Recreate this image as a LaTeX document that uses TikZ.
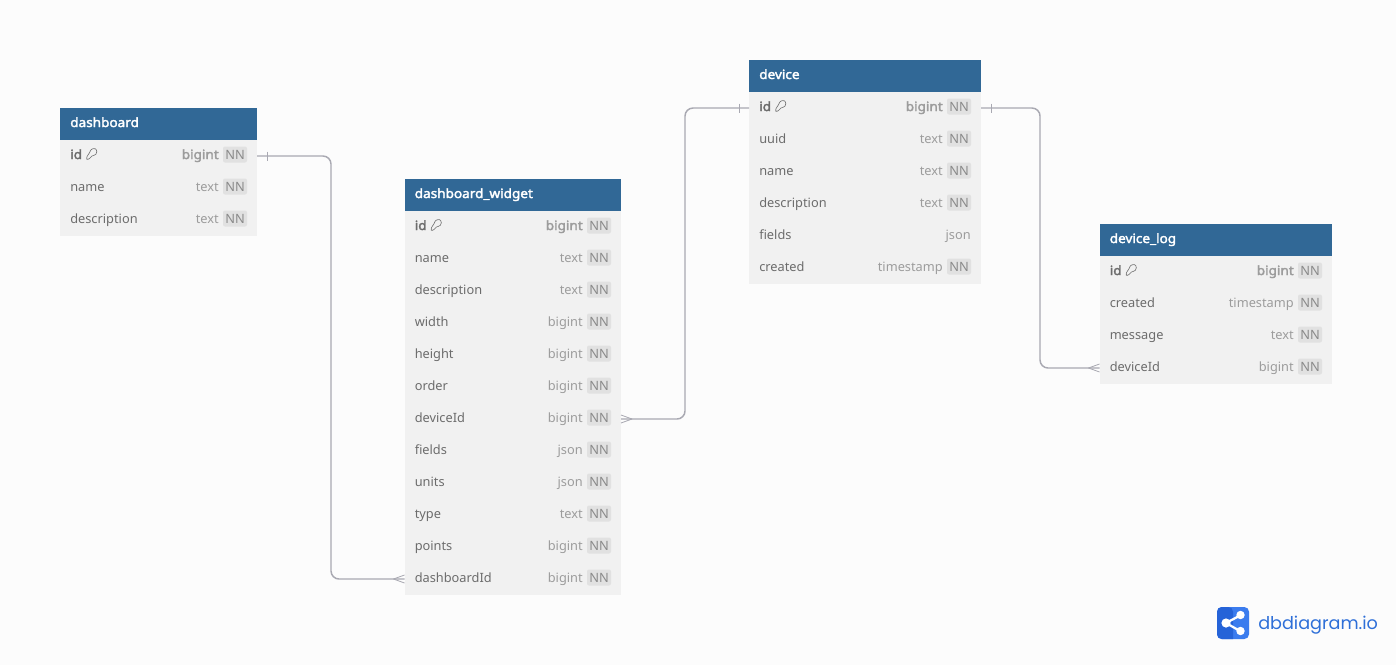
\documentclass[tikz,border=0pt]{standalone}
\usepackage{fontspec}
\setmainfont{Noto Sans}
\newfontfamily\heavy[FakeBold=2.4,FakeStretch=1.06]{Noto Sans}
\newfontfamily\logofont{Poppins}
\definecolor{pagebg}{HTML}{FCFCFC}
\definecolor{headbg}{HTML}{316896}
\definecolor{rowbg}{HTML}{F1F1F1}
\definecolor{namecol}{HTML}{6C6C6C}
\definecolor{typecol}{HTML}{9C9C9C}
\definecolor{badgebg}{HTML}{E1E1E1}
\definecolor{badgetx}{HTML}{8A8A8A}
\definecolor{linecol}{HTML}{A9A9B2}
\definecolor{logodark}{HTML}{2563D8}
\definecolor{logolight}{HTML}{3B7CEE}
\definecolor{logotext}{HTML}{2E6FD8}
\tikzset{
  headbox/.style={fill=headbg,draw=none,inner sep=0pt,outer sep=0pt,minimum height=24pt,anchor=north west},
  rowbox/.style={fill=rowbg,draw=none,inner sep=0pt,outer sep=0pt,minimum height=24pt,anchor=north west},
  headtext/.style={inner sep=0pt,anchor=base west,text=white,font=\heavy\fontsize{9.6pt}{11pt}\selectfont},
  nametext/.style={inner sep=0pt,anchor=base west,text=namecol,font=\fontsize{9.6pt}{11pt}\selectfont},
  typetext/.style={inner sep=0pt,anchor=base east,text=typecol,font=\fontsize{9.6pt}{11pt}\selectfont},
  badge/.style={fill=badgebg,draw=none,rounded corners=1.5pt,inner sep=0pt,minimum width=18pt,minimum height=12pt,anchor=center,text=badgetx,font=\fontsize{9.6pt}{11pt}\selectfont},
  rel/.style={draw=linecol,line width=1.1pt,rounded corners=6pt},
  mark stroke/.style={draw=linecol,line width=0.6pt},
  key stroke/.style={draw=namecol,line width=0.45pt},
}
% #1 prefix, #2 x0, #3 x1, #4 top, #5 title
\newcommand\tblhead[5]{%
  \node[headbox,minimum width={(#3-#2)*0.75pt}] (#1-head) at (#2,#4) {};
  \node[headtext] (#1-title) at (#2+10,#4+19) {#5};
}
% #1 prefix, #2 x0, #3 x1, #4 row top, #5 label, #6 type
\newcommand\bodyrow[6]{%
  \node[rowbox,minimum width={(#3-#2)*0.75pt}] (#1-#5) at (#2,#4) {};
  \node[nametext] (#1-#5-l) at (#2+10,#4+19.5) {#5};
  \node[typetext] (#1-#5-t) at (#3-38,#4+19.5) {#6};
  \node[badge] (#1-#5-n) at (#3-22,#4+14.5) {NN};
}
% row without the NN badge
\newcommand\freerow[6]{%
  \node[rowbox,minimum width={(#3-#2)*0.75pt}] (#1-#5) at (#2,#4) {};
  \node[nametext] (#1-#5-l) at (#2+10,#4+19.5) {#5};
  \node[typetext] (#1-#5-t) at (#3-10,#4+19.5) {#6};
}
% primary key row
\newcommand\keyrow[4]{%
  \node[rowbox,minimum width={(#3-#2)*0.75pt}] (#1-id) at (#2,#4) {};
  \node[nametext,font=\heavy\fontsize{9.6pt}{11pt}\selectfont] (#1-id-l) at (#2+10,#4+19) {id};
  \node[typetext,font=\heavy\fontsize{9.6pt}{11pt}\selectfont] (#1-id-t) at (#3-38,#4+19) {bigint};
  \node[badge] (#1-id-n) at (#3-22,#4+14.5) {NN};
  \begin{scope}[shift={(#2+26,#4+8)}]
    \draw[key stroke,rounded corners=0.8pt] (4.2,3.6) .. controls (5,0.6) and (9.5,-0.2) .. (10.6,2.6) .. controls (11.2,5.4) and (9,7.6) .. (6.8,7.2) -- (2.6,11.4) -- (0.6,11.4) -- (0.6,9.2) -- cycle;
  \end{scope}
}
\begin{document}
\begin{tikzpicture}[x=0.75pt,y=-0.75pt]
\useasboundingbox (0,0) rectangle (1396,665);
\fill[pagebg] (0,0) rectangle (1396,665);

% dashboard
\tblhead{dash}{60}{257}{108}{dashboard}
\keyrow{dash}{60}{257}{140}
\bodyrow{dash}{60}{257}{172}{name}{text}
\bodyrow{dash}{60}{257}{204}{description}{text}

% dashboard_widget
\tblhead{wid}{404.5}{621}{179}{dashboard\_widget}
\keyrow{wid}{404.5}{621}{211}
\bodyrow{wid}{404.5}{621}{243}{name}{text}
\bodyrow{wid}{404.5}{621}{275}{description}{text}
\bodyrow{wid}{404.5}{621}{307}{width}{bigint}
\bodyrow{wid}{404.5}{621}{339}{height}{bigint}
\bodyrow{wid}{404.5}{621}{371}{order}{bigint}
\bodyrow{wid}{404.5}{621}{403}{deviceId}{bigint}
\bodyrow{wid}{404.5}{621}{435}{fields}{json}
\bodyrow{wid}{404.5}{621}{467}{units}{json}
\bodyrow{wid}{404.5}{621}{499}{type}{text}
\bodyrow{wid}{404.5}{621}{531}{points}{bigint}
\bodyrow{wid}{404.5}{621}{563}{dashboardId}{bigint}

% device
\tblhead{dev}{749}{981}{60}{device}
\keyrow{dev}{749}{981}{92}
\bodyrow{dev}{749}{981}{124}{uuid}{text}
\bodyrow{dev}{749}{981}{156}{name}{text}
\bodyrow{dev}{749}{981}{188}{description}{text}
\freerow{dev}{749}{981}{220}{fields}{json}
\bodyrow{dev}{749}{981}{252}{created}{timestamp}

% device_log
\tblhead{log}{1099.5}{1332}{224}{device\_log}
\keyrow{log}{1099.5}{1332}{256}
\bodyrow{log}{1099.5}{1332}{288}{created}{timestamp}
\bodyrow{log}{1099.5}{1332}{320}{message}{text}
\bodyrow{log}{1099.5}{1332}{352}{deviceId}{bigint}

% connectors
\coordinate (busa) at (331,0);
\coordinate (busb) at (685,0);
\coordinate (busc) at (1040,0);
\draw[rel] (dash-id.east) -- (dash-id.east -| busa) -- (wid-dashboardId.west -| busa) -- (wid-dashboardId.west);
\draw[rel] (wid-deviceId.east) -- (wid-deviceId.east -| busb) -- (dev-id.west -| busb) -- (dev-id.west);
\draw[rel] (dev-id.east) -- (dev-id.east -| busc) -- (log-deviceId.west -| busc) -- (log-deviceId.west);

% cardinality marks
\draw[mark stroke] ([shift={(10,-4.5)}]dash-id.east) -- ([shift={(10,4.5)}]dash-id.east);
\draw[mark stroke] ([shift={(-10,-4.5)}]dev-id.west) -- ([shift={(-10,4.5)}]dev-id.west);
\draw[mark stroke] ([shift={(10,-4.5)}]dev-id.east) -- ([shift={(10,4.5)}]dev-id.east);
\draw[mark stroke] ([shift={(-11,0)}]wid-dashboardId.west) -- ([shift={(0,-4)}]wid-dashboardId.west);
\draw[mark stroke] ([shift={(-11,0)}]wid-dashboardId.west) -- ([shift={(0,4)}]wid-dashboardId.west);
\draw[mark stroke] ([shift={(11,0)}]wid-deviceId.east) -- ([shift={(0,-4)}]wid-deviceId.east);
\draw[mark stroke] ([shift={(11,0)}]wid-deviceId.east) -- ([shift={(0,4)}]wid-deviceId.east);
\draw[mark stroke] ([shift={(-11,0)}]log-deviceId.west) -- ([shift={(0,-4)}]log-deviceId.west);
\draw[mark stroke] ([shift={(-11,0)}]log-deviceId.west) -- ([shift={(0,4)}]log-deviceId.west);

% logo
\fill[logolight,rounded corners=3.5pt] (1217,607) rectangle (1249,639);
\fill[logodark,rounded corners=3.5pt] (1217,607) -- (1233,607) [sharp corners] -- (1233,639) [rounded corners=3.5pt] -- (1217,639) -- cycle;
\draw[white,line width=1.7pt] (1240,615.5) -- (1226,623) -- (1240,631);
\fill[white] (1226,623) circle (4.6);
\fill[white] (1240.5,615) circle (4.2);
\fill[white] (1240.5,631) circle (4.2);
\node[inner sep=0pt,anchor=base west,text=logotext,font=\logofont\fontsize{13.2pt}{16pt}\selectfont] (brand) at (1258,629.5) {dbdiagram.io};
\end{tikzpicture}
\end{document}
